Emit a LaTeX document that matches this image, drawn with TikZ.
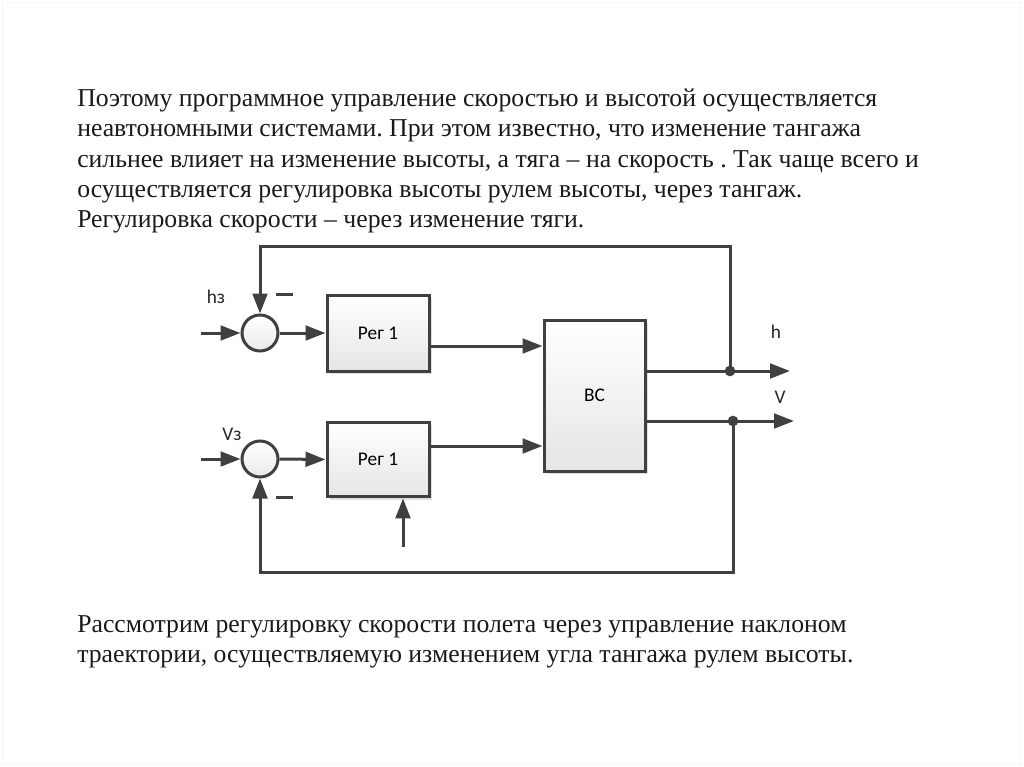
\documentclass[tikz,border=0pt]{standalone}
\usepackage{fontspec}
\setmainfont{Liberation Serif}
\newfontfamily\diagfont{Carlito}
\usetikzlibrary{arrows.meta,shadows,calc}
\definecolor{ln}{HTML}{404040}
\frenchspacing
\tikzset{
  wire/.style={draw=ln,line width=2.25pt},
  arr/.style={wire,-{Triangle[length=15pt,width=11pt]}},
  blk/.style={draw=ln,line width=2.25pt,top color=white,bottom color=black!10,
    drop shadow={shadow xshift=2pt,shadow yshift=-2pt,opacity=0.25},
    font=\diagfont\fontsize{14.5}{16}\selectfont,inner sep=0pt},
  sum/.style={circle,draw=ln,line width=2.25pt,top color=white,bottom color=black!8,
    minimum size=27pt,inner sep=0pt},
  lbl/.style={font=\diagfont\fontsize{14.5}{16}\selectfont,inner sep=0pt,text=black!85},
  txt/.style={anchor=base west,inner sep=0pt,font=\fontsize{19.3}{22}\selectfont,text=black!90},
  dot/.style={circle,fill=ln,inner sep=0pt,minimum size=8pt},
}
\begin{document}
\begin{tikzpicture}[x=0.75pt,y=-0.75pt]
\useasboundingbox (0,0) rectangle (1024,767);
\draw[black!4,line width=0.6pt] (2,2) rectangle (1020,764);

% text
\node[txt] (t1) at (77,107) {Поэтому программное управление скоростью и высотой осуществляется};
\node[txt] (t2) at (77,137) {неавтономными системами. При этом известно, что изменение тангажа};
\node[txt] (t3) at (77,167) {сильнее влияет на изменение высоты, а тяга -- на скорость . Так чаще всего и};
\node[txt] (t4) at (77,197) {осуществляется регулировка высоты рулем высоты, через тангаж.};
\node[txt] (t5) at (77,227) {Регулировка скорости -- через изменение тяги.};
\node[txt] (b1) at (77,632) {Рассмотрим регулировку скорости полета через управление наклоном};
\node[txt] (b2) at (77,662) {траектории, осуществляемую изменением угла тангажа рулем высоты.};

% blocks
\node[blk,minimum width=76.5pt,minimum height=57pt] (r1) at (378,333) {Рег 1};
\node[blk,minimum width=76.5pt,minimum height=56pt] (r2) at (378,459.5) {Рег 1};
\node[blk,minimum width=75.75pt,minimum height=113.25pt] (bc) at (594.5,395.5) {BC};
\node[sum] (c1) at (260,333) {};
\node[sum] (c2) at (260,459) {};

% coordinates
\coordinate (in1) at (201,333);
\coordinate (in2) at (201,459);
\coordinate (ho) at (790,371);
\coordinate (vo) at (794,421);
\coordinate (top) at (260,246);
\coordinate (bot) at (260,572);
\coordinate (up) at (403,547);
\node[dot] (d1) at (730,371) {};
\node[dot] (d2) at (733,421) {};

% connectors
\draw[arr] (in1) -- (c1.west);
\draw[arr] (c1.east) -- (r1.west);
\draw[arr] (in2) -- (c2.west);
\draw[arr] (c2.east) -- (r2.west);
\draw[arr] (r1.east |- 0,346) -- (bc.west |- 0,346);
\draw[arr] (r2.east |- 0,446) -- (bc.west |- 0,446);
\draw[arr] (bc.east |- ho) -- (ho);
\draw[arr] (bc.east |- vo) -- (vo);
\draw[arr] (d1.center) |- (top) -- (c1.north);
\draw[arr] (d2.center) |- (bot) -- (c2.south);
\draw[arr] (up) -- (r2.south -| up);

% labels
\node[lbl] (lh3) at (216,297) {hз};
\node[lbl] (lv3) at (232,434) {Vз};
\node[lbl] (lh) at (776,332) {h};
\node[lbl] (lv) at (780,397) {V};
\draw[wire] (276,294) -- (293,294);
\draw[wire] (276,497) -- (293,497);
\end{tikzpicture}
\end{document}
